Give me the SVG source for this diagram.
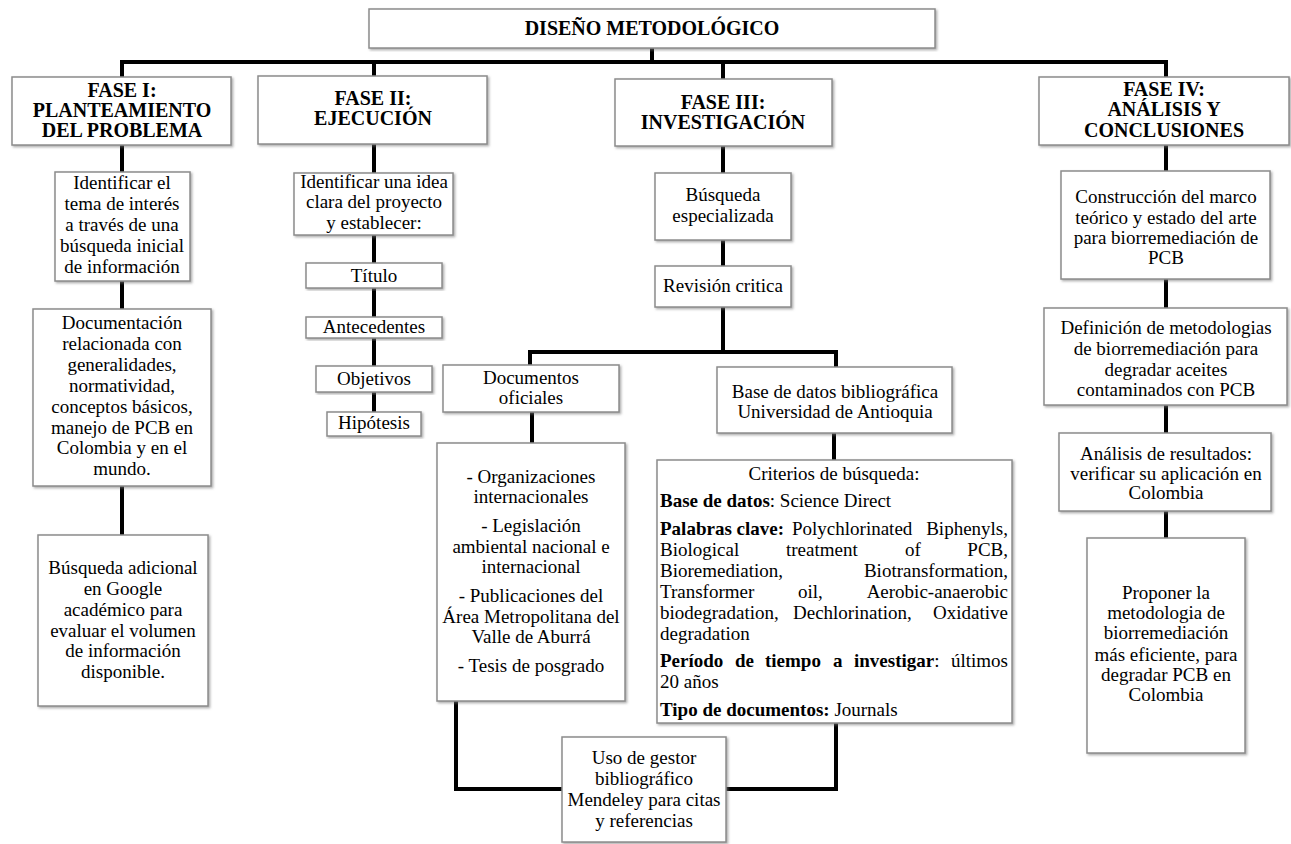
<svg xmlns="http://www.w3.org/2000/svg" width="1291" height="844" viewBox="0 0 1291 844" font-family="'Liberation Serif', 'DejaVu Serif', serif">
<defs>
<filter id="sh" x="-5%" y="-5%" width="115%" height="115%">
<feDropShadow dx="1.5" dy="1.5" stdDeviation="1" flood-color="#777" flood-opacity="0.6"/>
</filter>
<style>
.box{fill:#fff;stroke:#8c8c8c;stroke-width:1.5;filter:url(#sh)}
.t{font-family:"Liberation Serif","DejaVu Serif",serif;font-size:19px;fill:#000;text-anchor:middle}
.h{font-weight:bold;font-size:20px}
.b{font-weight:bold}
.l{text-anchor:start}
.r{text-anchor:end}
.c{fill:none;stroke:#000;stroke-width:4}
</style>
</defs>
<rect width="1291" height="844" fill="#fff"/>

<g id="connectors" class="c">
<path d="M652,48 V63 M122,77 V62 H1166 V77 M374,62 V76 M723,62 V79"/>
<path d="M122,145 V172 M122,281 V309 M122,486 V535"/>
<path d="M374,144 V173 M374,235 V263 M374,288 V317 M374,338 V366 M374,392 V412"/>
<path d="M723,146 V173 M723,240 V266 M723,307 V352 M530,366 V352 H836 V367 M532,412 V443 M834,433 V460"/>
<path d="M456,701 V789 H562 M836,723 V789 H726"/>
<path d="M1166,145 V171 M1166,279 V308 M1166,405 V433 M1166,511 V538"/>
</g>

<g id="title">
<rect class="box" x="369" y="9" width="566" height="39"/>
<text class="t h" x="652" y="35">DISEÑO METODOLÓGICO</text>
</g>

<g id="fase1">
<rect class="box" x="12" y="77" width="219" height="68"/>
<text class="t h" x="122" y="97">FASE I:</text>
<text class="t h" x="122" y="117">PLANTEAMIENTO</text>
<text class="t h" x="122" y="137">DEL PROBLEMA</text>
</g>
<g id="fase2">
<rect class="box" x="258" y="76" width="229" height="68"/>
<text class="t h" x="373" y="105">FASE II:</text>
<text class="t h" x="373" y="125">EJECUCIÓN</text>
</g>
<g id="fase3">
<rect class="box" x="615" y="79" width="217" height="67"/>
<text class="t h" x="723" y="109">FASE III:</text>
<text class="t h" x="723" y="129">INVESTIGACIÓN</text>
</g>
<g id="fase4">
<rect class="box" x="1039" y="77" width="250" height="68"/>
<text class="t h" x="1164" y="96">FASE IV:</text>
<text class="t h" x="1164" y="116">ANÁLISIS Y</text>
<text class="t h" x="1164" y="137">CONCLUSIONES</text>
</g>

<g id="identificar-tema">
<rect class="box" x="55" y="172" width="135" height="109"/>
<text class="t" x="122" y="189">Identificar el</text>
<text class="t" x="122" y="210">tema de interés</text>
<text class="t" x="122" y="231">a través de una</text>
<text class="t" x="122" y="252">búsqueda inicial</text>
<text class="t" x="122" y="273">de información</text>
</g>
<g id="documentacion">
<rect class="box" x="33" y="309" width="178" height="177"/>
<text class="t" x="122" y="329">Documentación</text>
<text class="t" x="122" y="350">relacionada con</text>
<text class="t" x="122" y="371">generalidades,</text>
<text class="t" x="122" y="392">normatividad,</text>
<text class="t" x="122" y="413">conceptos básicos,</text>
<text class="t" x="122" y="434">manejo de PCB en</text>
<text class="t" x="122" y="454">Colombia y en el</text>
<text class="t" x="122" y="475">mundo.</text>
</g>
<g id="busqueda-adicional">
<rect class="box" x="38" y="535" width="170" height="171"/>
<text class="t" x="123" y="574">Búsqueda adicional</text>
<text class="t" x="123" y="595">en Google</text>
<text class="t" x="123" y="616">académico para</text>
<text class="t" x="123" y="637">evaluar el volumen</text>
<text class="t" x="123" y="657">de información</text>
<text class="t" x="123" y="678">disponible.</text>
</g>

<g id="identificar-idea">
<rect class="box" x="294" y="173" width="159" height="62"/>
<text class="t" x="374" y="188">Identificar una idea</text>
<text class="t" x="374" y="208">clara del proyecto</text>
<text class="t" x="374" y="229">y establecer:</text>
</g>
<g id="titulo">
<rect class="box" x="306" y="263" width="136" height="25"/>
<text class="t" x="374" y="282">Título</text>
</g>
<g id="antecedentes">
<rect class="box" x="306" y="317" width="136" height="21"/>
<text class="t" x="374" y="333">Antecedentes</text>
</g>
<g id="objetivos">
<rect class="box" x="316" y="366" width="116" height="26"/>
<text class="t" x="374" y="385">Objetivos</text>
</g>
<g id="hipotesis">
<rect class="box" x="327" y="412" width="94" height="24"/>
<text class="t" x="374" y="429">Hipótesis</text>
</g>

<g id="busqueda-especializada">
<rect class="box" x="655" y="173" width="136" height="67"/>
<text class="t" x="723" y="201">Búsqueda</text>
<text class="t" x="723" y="222">especializada</text>
</g>
<g id="revision">
<rect class="box" x="655" y="266" width="136" height="41"/>
<text class="t" x="723" y="292">Revisión critica</text>
</g>
<g id="documentos-oficiales">
<rect class="box" x="443" y="365" width="176" height="47"/>
<text class="t" x="531" y="384">Documentos</text>
<text class="t" x="531" y="404">oficiales</text>
</g>
<g id="base-datos">
<rect class="box" x="717" y="367" width="235" height="66"/>
<text class="t" x="835" y="398">Base de datos bibliográfica</text>
<text class="t" x="835" y="418">Universidad de Antioquia</text>
</g>
<g id="organizaciones">
<rect class="box" x="437" y="443" width="188" height="258"/>
<text class="t" x="531" y="483">- Organizaciones</text>
<text class="t" x="531" y="503">internacionales</text>
<text class="t" x="531" y="532">- Legislación</text>
<text class="t" x="531" y="553">ambiental nacional e</text>
<text class="t" x="531" y="573">internacional</text>
<text class="t" x="531" y="602">- Publicaciones del</text>
<text class="t" x="531" y="623">Área Metropolitana del</text>
<text class="t" x="531" y="643">Valle de Aburrá</text>
<text class="t" x="531" y="672">- Tesis de posgrado</text>
</g>
<g id="criterios">
<rect class="box" x="657" y="460" width="355" height="263"/>
<text class="t" x="834" y="480">Criterios de búsqueda:</text>
<text class="t l" x="660" y="507"><tspan class="b">Base de datos</tspan>: Science Direct</text>
<text class="t l b" x="660" y="535">Palabras clave:</text>
<text class="t l" x="792" y="535">Polychlorinated</text>
<text class="t r" x="1008" y="535">Biphenyls,</text>
<text class="t l" x="660" y="556">Biological</text>
<text class="t l" x="786" y="556">treatment</text>
<text class="t l" x="905" y="556">of</text>
<text class="t r" x="1008" y="556">PCB,</text>
<text class="t l" x="660" y="577">Bioremediation,</text>
<text class="t r" x="1008" y="577">Biotransformation,</text>
<text class="t l" x="660" y="598">Transformer</text>
<text class="t l" x="798" y="598">oil,</text>
<text class="t r" x="1008" y="598">Aerobic-anaerobic</text>
<text class="t l" x="660" y="619">biodegradation,</text>
<text class="t l" x="793" y="619">Dechlorination,</text>
<text class="t r" x="1008" y="619">Oxidative</text>
<text class="t l" x="660" y="640">degradation</text>
<text class="t l b" x="660" y="667">Período</text>
<text class="t l b" x="735" y="667">de</text>
<text class="t l b" x="765" y="667">tiempo</text>
<text class="t l b" x="833" y="667">a</text>
<text class="t l" x="854" y="667"><tspan class="b">investigar</tspan>:</text>
<text class="t r" x="1008" y="667">últimos</text>
<text class="t l" x="660" y="688">20 años</text>
<text class="t l" x="660" y="716"><tspan class="b">Tipo de documentos:</tspan> Journals</text>
</g>
<g id="mendeley">
<rect class="box" x="562" y="737" width="164" height="105"/>
<text class="t" x="644" y="764">Uso de gestor</text>
<text class="t" x="644" y="785">bibliográfico</text>
<text class="t" x="644" y="806">Mendeley para citas</text>
<text class="t" x="644" y="827">y referencias</text>
</g>

<g id="construccion">
<rect class="box" x="1061" y="171" width="209" height="108"/>
<text class="t" x="1166" y="203">Construcción del marco</text>
<text class="t" x="1166" y="224">teórico y estado del arte</text>
<text class="t" x="1166" y="244">para biorremediación de</text>
<text class="t" x="1166" y="264">PCB</text>
</g>
<g id="definicion">
<rect class="box" x="1044" y="308" width="243" height="97"/>
<text class="t" x="1166" y="334">Definición de metodologias</text>
<text class="t" x="1166" y="355">de biorremediación para</text>
<text class="t" x="1166" y="376">degradar aceites</text>
<text class="t" x="1166" y="396">contaminados con PCB</text>
</g>
<g id="analisis">
<rect class="box" x="1059" y="433" width="212" height="78"/>
<text class="t" x="1166" y="460">Análisis de resultados:</text>
<text class="t" x="1166" y="480">verificar su aplicación en</text>
<text class="t" x="1166" y="499">Colombia</text>
</g>
<g id="proponer">
<rect class="box" x="1087" y="538" width="158" height="215"/>
<text class="t" x="1166" y="599">Proponer la</text>
<text class="t" x="1166" y="619">metodologia de</text>
<text class="t" x="1166" y="639">biorremediación</text>
<text class="t" x="1166" y="661">más eficiente, para</text>
<text class="t" x="1166" y="681">degradar PCB en</text>
<text class="t" x="1166" y="701">Colombia</text>
</g>
</svg>
